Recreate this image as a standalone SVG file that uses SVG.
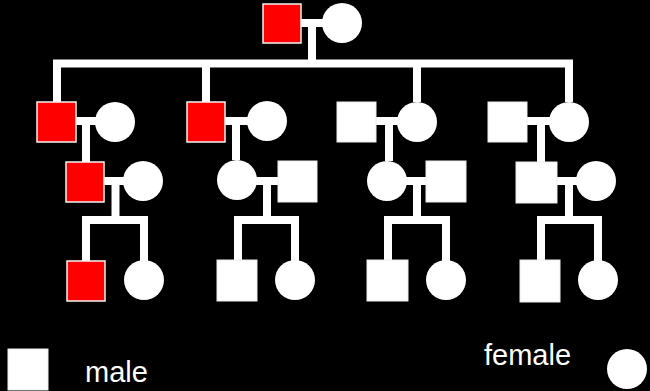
<svg xmlns="http://www.w3.org/2000/svg" width="650" height="391" viewBox="0 0 650 391">
<style>
.bg{fill:#000}
.m{fill:#fff;stroke:#ececec;stroke-width:1}
.a{fill:#ff0000;stroke:#f4f4f4;stroke-width:1.5}
.f{fill:#fff}
.ln{fill:none;stroke:#fff;stroke-width:8;stroke-linejoin:miter;stroke-linecap:butt}
.t{font-family:"Liberation Sans",Arial,sans-serif;font-size:29px;fill:#fff}
</style>
<rect class="bg" x="0" y="0" width="650" height="391"/>
<g id="connectors">
<line class="ln" x1="301" y1="23" x2="323" y2="23"/>
<line class="ln" x1="312" y1="23" x2="312" y2="63"/>
<polyline class="ln" points="57,102 57,63.5 569,63.5 569,102"/>
<line class="ln" x1="206" y1="63.5" x2="206" y2="102"/>
<line class="ln" x1="417" y1="63.5" x2="417" y2="102"/>
<line class="ln" x1="76" y1="121" x2="96" y2="121"/>
<line class="ln" x1="86" y1="121" x2="86" y2="162"/>
<line class="ln" x1="225" y1="121" x2="248" y2="121"/>
<line class="ln" x1="236" y1="121" x2="236" y2="160"/>
<line class="ln" x1="376" y1="121" x2="398" y2="121"/>
<line class="ln" x1="389" y1="121" x2="389" y2="161"/>
<line class="ln" x1="527" y1="121" x2="550" y2="121"/>
<line class="ln" x1="541" y1="121" x2="541" y2="162"/>
<line class="ln" x1="104" y1="181" x2="124" y2="181"/>
<polyline class="ln" points="115.5,181 115.5,220"/>
<polyline class="ln" points="86,261 86,220 144,220 144,261"/>
<line class="ln" x1="256" y1="181" x2="278" y2="181"/>
<polyline class="ln" points="267,181 267,220"/>
<polyline class="ln" points="238,261 238,220 295,220 295,261"/>
<line class="ln" x1="406" y1="181" x2="426" y2="181"/>
<polyline class="ln" points="417,181 417,220"/>
<polyline class="ln" points="388,261 388,220 446,220 446,261"/>
<line class="ln" x1="557" y1="181" x2="577" y2="181"/>
<polyline class="ln" points="569,181 569,220"/>
<polyline class="ln" points="541,261 541,220 598,220 598,261"/>
</g>
<g id="g1-male"><rect class="a" x="263" y="4" width="38" height="39"/></g>
<g id="g1-female"><circle class="f" cx="342" cy="23" r="20"/></g>
<g id="g2a-male"><rect class="a" x="37" y="102" width="39" height="40"/></g>
<g id="g2a-female"><circle class="f" cx="115" cy="122" r="20"/></g>
<g id="g2b-male"><rect class="a" x="187" y="102" width="38" height="40"/></g>
<g id="g2b-female"><circle class="f" cx="267" cy="121" r="20"/></g>
<g id="g2c-male"><rect class="m" x="337" y="102" width="39" height="40"/></g>
<g id="g2c-female"><circle class="f" cx="417" cy="122" r="20"/></g>
<g id="g2d-male"><rect class="m" x="488" y="102" width="39" height="40"/></g>
<g id="g2d-female"><circle class="f" cx="569" cy="122" r="20"/></g>
<g id="g3a-male"><rect class="a" x="66" y="162" width="38" height="40"/></g>
<g id="g3a-female"><circle class="f" cx="143" cy="181" r="20"/></g>
<g id="g3b-female"><circle class="f" cx="237" cy="180" r="20"/></g>
<g id="g3b-male"><rect class="m" x="278" y="161" width="39" height="41"/></g>
<g id="g3c-female"><circle class="f" cx="387" cy="181" r="20"/></g>
<g id="g3c-male"><rect class="m" x="426" y="161" width="40" height="41"/></g>
<g id="g3d-male"><rect class="m" x="516" y="162" width="41" height="41"/></g>
<g id="g3d-female"><circle class="f" cx="596" cy="181" r="20"/></g>
<g id="g4a-male"><rect class="a" x="67" y="261" width="38" height="40"/></g>
<g id="g4a-female"><circle class="f" cx="144" cy="280" r="20"/></g>
<g id="g4b-male"><rect class="m" x="217" y="260" width="40" height="41"/></g>
<g id="g4b-female"><circle class="f" cx="295" cy="280" r="20"/></g>
<g id="g4c-male"><rect class="m" x="367" y="260" width="41" height="41"/></g>
<g id="g4c-female"><circle class="f" cx="446" cy="280" r="20"/></g>
<g id="g4d-male"><rect class="m" x="520" y="260" width="40" height="42"/></g>
<g id="g4d-female"><circle class="f" cx="598" cy="280" r="20"/></g>
<g id="legend-male"><rect class="m" x="8" y="349" width="40" height="41"/><text class="t" x="85" y="382">male</text></g>
<g id="legend-female"><text class="t" x="484" y="365">female</text><circle class="f" cx="627" cy="369" r="20"/></g>
</svg>
